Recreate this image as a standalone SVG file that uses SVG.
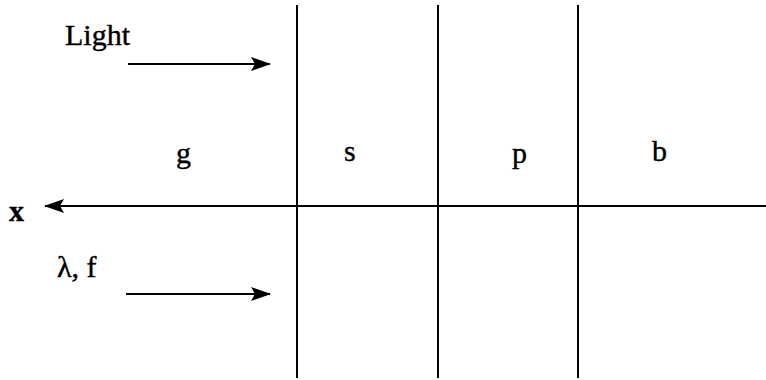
<svg xmlns="http://www.w3.org/2000/svg" width="766" height="380" viewBox="0 0 766 380">
<style>
text{font-family:'Liberation Serif','Times New Roman','DejaVu Serif',serif;font-size:30px;fill:#000;stroke:#000;stroke-width:0.4}
.l{stroke:#000;stroke-width:2;fill:none}
</style>
<defs>
<marker id="ah2" markerWidth="20" markerHeight="14" refX="19" refY="7" orient="auto" markerUnits="userSpaceOnUse">
<path d="M0,0 L20,7 L0,14 L4,7 Z" fill="#000"/>
</marker>
</defs>
<g id="connectors">
<line class="l" x1="297" y1="5" x2="297" y2="378"/>
<line class="l" x1="438" y1="5" x2="438" y2="378"/>
<line class="l" x1="578" y1="5" x2="578" y2="378"/>
<line class="l" x1="766" y1="206" x2="45" y2="206" marker-end="url(#ah2)"/>
<line class="l" x1="128" y1="64" x2="270" y2="64" marker-end="url(#ah2)"/>
<line class="l" x1="126" y1="294" x2="270" y2="294" marker-end="url(#ah2)"/>
</g>
<g id="labels">
<text x="65" y="45">Light</text>
<text x="176" y="163">g</text>
<text x="344" y="161">s</text>
<text x="512" y="163">p</text>
<text x="652" y="161">b</text>
<text x="9" y="221" font-weight="bold">x</text>
<text x="57" y="277">λ, f</text>
</g>
</svg>
